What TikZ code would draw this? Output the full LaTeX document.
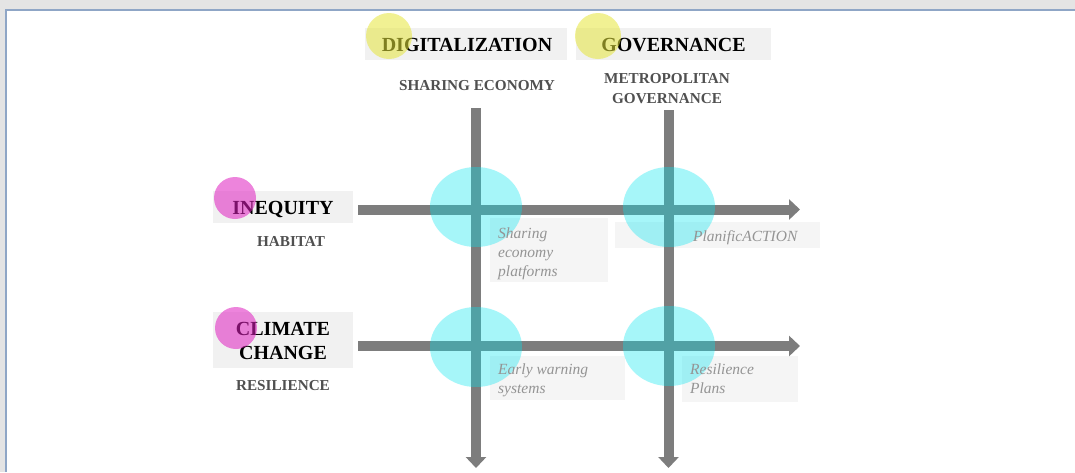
\documentclass[tikz,border=0pt]{standalone}
\usepackage{fontspec}
\setmainfont{Liberation Serif}
\usetikzlibrary{arrows.meta,shapes.geometric}
\definecolor{bggray}{HTML}{E4E4E4}
\definecolor{framecol}{HTML}{8FA6C6}
\definecolor{boxgray}{HTML}{F1F1F1}
\definecolor{bargray}{HTML}{7D7D7D}
\definecolor{subgray}{HTML}{505050}
\definecolor{itgray}{HTML}{949494}
\definecolor{blobcyan}{HTML}{00E6F0}
\definecolor{dotyellow}{HTML}{E6E63C}
\definecolor{dotpink}{HTML}{E020C0}
\begin{document}
\begin{tikzpicture}[x=1pt,y=-1pt,
  hdr/.style={font=\bfseries\fontsize{20}{24.5}\selectfont, text=black, align=center, inner sep=0pt},
  hdrbox/.style={fill=boxgray, draw=none, inner sep=0pt},
  sub/.style={font=\bfseries\fontsize{15.2}{20}\selectfont, text=subgray, align=center, inner sep=0pt},
  lbl/.style={font=\itshape\fontsize{15.5}{19}\selectfont, text=itgray, align=left, anchor=north west, inner sep=0pt},
  lblbox/.style={fill=boxgray!70, draw=none, inner sep=0pt},
  bar/.style={line width=10pt, draw=bargray, -{Triangle[length=11pt,width=20pt]}},
  blob/.style={ellipse, fill=blobcyan, fill opacity=0.35, draw=none, minimum width=92pt, minimum height=80pt, inner sep=0pt},
  ydot/.style={circle, fill=dotyellow, fill opacity=0.55, draw=none, minimum size=46pt, inner sep=0pt},
  pdot/.style={circle, fill=dotpink, fill opacity=0.55, draw=none, minimum size=42pt, inner sep=0pt}
]
% background and panel
\useasboundingbox (0,0) rectangle (1075,472);
\fill[bggray] (0,0) rectangle (1075,472);
\fill[white] (6,10) rectangle (1075,472);
\draw[framecol, line width=2pt] (6,472) -- (6,10) -- (1075,10);

% header boxes
\node[hdrbox, minimum width=202pt, minimum height=32pt] (digbox) at (466,44) {};
\node[hdrbox, minimum width=195pt, minimum height=32pt] (govbox) at (673.5,44) {};
\node[hdrbox, minimum width=140pt, minimum height=32pt] (ineqbox) at (283,207) {};
\node[hdrbox, minimum width=140pt, minimum height=56pt] (climbox) at (283,340) {};

% label boxes
\node[lblbox, minimum width=118pt, minimum height=64pt] (b1) at (549,250) {};
\node[lblbox, minimum width=205pt, minimum height=26pt] (b2) at (717.5,235) {};
\node[lblbox, minimum width=135pt, minimum height=44pt] (b3) at (557.5,378) {};
\node[lblbox, minimum width=116pt, minimum height=46pt] (b4) at (740,379) {};

% bar end points
\coordinate (v1s) at (476,108);
\coordinate (v1e) at (476,468);
\coordinate (v2s) at (668.5,110);
\coordinate (v2e) at (668.5,468);
\coordinate (h1s) at (358,209.5);
\coordinate (h1e) at (800,209.5);
\coordinate (h2s) at (358,346);
\coordinate (h2e) at (800,346);

\draw[bar] (v1s) -- (v1e);
\draw[bar] (v2s) -- (v2e);
\draw[bar] (h1s) -- (h1e);
\draw[bar] (h2s) -- (h2e);

% cyan blobs at the crossings
\node[blob] (e1) at (476,207) {};
\node[blob] (e2) at (669,207) {};
\node[blob] (e3) at (476,347) {};
\node[blob] (e4) at (669,346) {};

% headers
\node[hdr] (dig) at (467,45) {DIGITALIZATION};
\node[hdr] (gov) at (673.5,45) {GOVERNANCE};
\node[sub] (share) at (477,86) {SHARING ECONOMY};
\node[sub] (metro) at (667,89) {METROPOLITAN\\GOVERNANCE};

\node[hdr] (ineq) at (283,209) {INEQUITY};
\node[sub] (habitat) at (291,241) {HABITAT};
\node[hdr] (clim) at (283,341) {CLIMATE\\CHANGE};
\node[sub] (resil) at (283,386) {RESILIENCE};

% italic labels
\node[lbl] (t1) at (498,228) {Sharing\\economy\\platforms};
\node[lbl] (t2) at (693,230) {PlanificACTION};
\node[lbl] (t3) at (498,364) {Early warning\\systems};
\node[lbl] (t4) at (690,364) {Resilience\\Plans};

% highlight dots
\node[ydot] (y1) at (389,36) {};
\node[ydot] (y2) at (598,36) {};
\node[pdot] (p1) at (235,198) {};
\node[pdot] (p2) at (236,328) {};
\end{tikzpicture}
\end{document}
